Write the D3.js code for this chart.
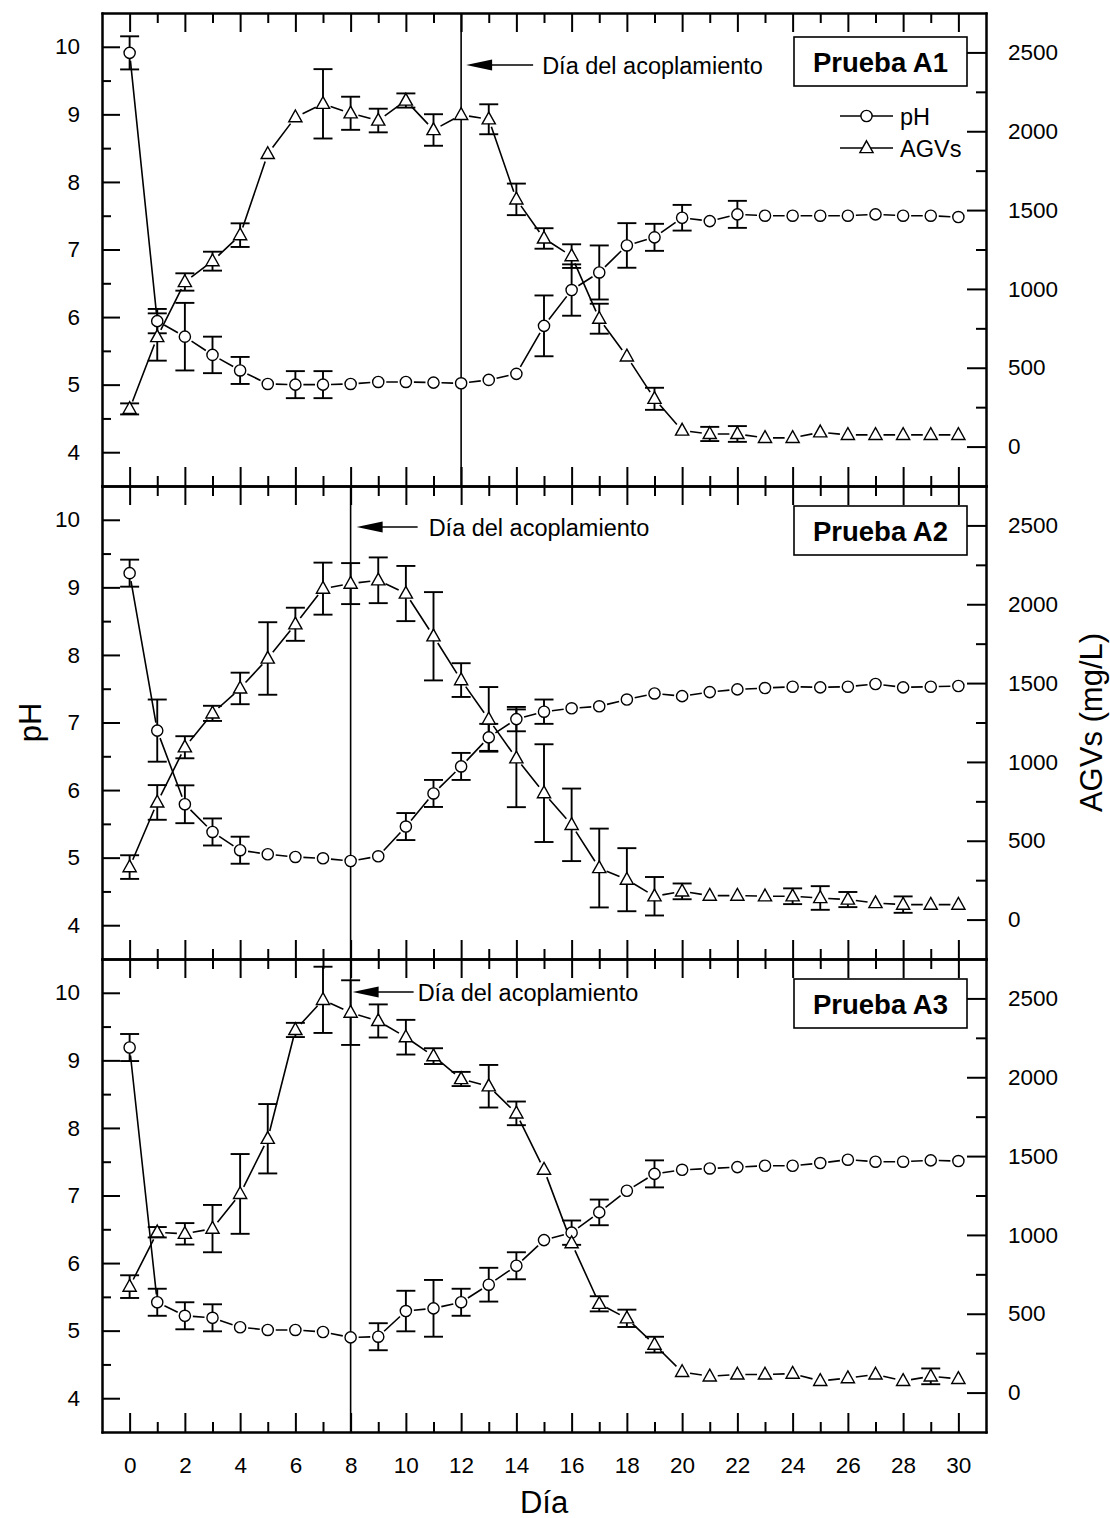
<!DOCTYPE html>
<html><head><meta charset="utf-8">
<script src="https://cdn.jsdelivr.net/npm/d3@7"></script>
<style>
body{margin:0;background:#fff}
svg text{font-family:"Liberation Sans",Arial,Helvetica,sans-serif;fill:#000}
</style>
</head><body>
<svg id="c" width="1110" height="1518"></svg>
<script>
// ---------------- data ----------------
const days = [0,1,2,3,4,5,6,7,8,9,10,11,12,13,14,15,16,17,18,19,20,21,22,23,24,25,26,27,28,29,30];
const testNames = ["Prueba A1","Prueba A2","Prueba A3"];
const couplingDays = [12, 8, 8];
const annotationText = "Día del acoplamiento";
const legendLabels = ["pH","AGVs"];
const xTitle = "Día", yLeftTitle = "pH", yRightTitle = "AGVs (mg/L)";
const dayMajorTicks = [0,2,4,6,8,10,12,14,16,18,20,22,24,26,28,30];
const dayMinorTicks = [1,3,5,7,9,11,13,15,17,19,21,23,25,27,29];
const phMajorTicks = [4,5,6,7,8,9,10];
const phMinorTicks = [4.5,5.5,6.5,7.5,8.5,9.5];
const agvMajorTicks = [0,500,1000,1500,2000,2500];
const agvMinorTicks = [250,750,1250,1750,2250];

const pH_A1     = [9.91,5.94,5.71,5.44,5.21,5.01,5.00,5.00,5.01,5.04,5.04,5.03,5.02,5.07,5.16,5.87,6.40,6.66,7.06,7.18,7.47,7.42,7.52,7.50,7.50,7.50,7.50,7.52,7.50,7.50,7.48];
const pH_A1_err = [0.245,0.18,0.5,0.27,0.2,0,0.2,0.2,0,0,0,0,0,0,0,0.45,0.38,0.4,0.33,0.2,0.19,0,0.2,0,0,0,0,0,0,0,0];
const agv_A1     = [239,695,1044,1176,1341,1856,2089,2174,2114,2068,2195,2008,2104,2076,1568,1320,1208,811,572,303,102,80,80,55,55,91,74,74,74,74,74];
const agv_A1_err = [35,150,55,60,75,0,0,220,105,75,45,100,0,95,100,65,75,95,0,70,0,45,50,0,0,0,0,0,0,0,0];

const pH_A2     = [9.21,6.88,5.79,5.38,5.11,5.05,5.01,4.99,4.95,5.02,5.46,5.95,6.35,6.78,7.05,7.16,7.21,7.24,7.34,7.43,7.39,7.45,7.49,7.51,7.53,7.52,7.53,7.57,7.52,7.53,7.54];
const pH_A2_err = [0.2,0.46,0.28,0.2,0.2,0,0,0,0,0,0.2,0.2,0.2,0.2,0.18,0.18,0,0,0,0,0,0,0,0,0,0,0,0,0,0,0];
const agv_A2     = [333,743,1093,1308,1466,1656,1873,2099,2131,2152,2068,1797,1519,1270,1023,802,601,327,253,148,179,152,152,148,148,137,127,105,95,95,95];
const agv_A2_err = [75,110,70,48,100,230,105,165,130,145,175,280,107,205,310,310,230,250,200,122,50,0,0,0,50,75,48,0,52,0,0];

const pH_A3     = [9.19,5.42,5.22,5.19,5.05,5.01,5.01,4.98,4.90,4.91,5.29,5.33,5.42,5.68,5.96,6.34,6.45,6.75,7.07,7.32,7.38,7.40,7.42,7.44,7.44,7.48,7.53,7.50,7.50,7.52,7.51];
const pH_A3_err = [0.2,0.2,0.2,0.2,0,0,0,0,0,0.2,0.3,0.42,0.2,0.25,0.2,0,0.18,0.19,0,0.2,0,0,0,0,0,0,0,0,0,0,0];
const agv_A3     = [672,1017,1007,1040,1260,1610,2300,2491,2410,2357,2254,2134,1989,1943,1771,1414,948,563,471,304,131,103,115,115,120,74,92,115,74,103,87];
const agv_A3_err = [72,33,68,150,253,220,45,210,205,105,110,50,45,135,75,0,0,48,55,50,0,0,0,0,0,0,0,0,0,50,0];

const panels = [
  {name: testNames[0], coupling: couplingDays[0], ph: pH_A1, phErr: pH_A1_err, agv: agv_A1, agvErr: agv_A1_err},
  {name: testNames[1], coupling: couplingDays[1], ph: pH_A2, phErr: pH_A2_err, agv: agv_A2, agvErr: agv_A2_err},
  {name: testNames[2], coupling: couplingDays[2], ph: pH_A3, phErr: pH_A3_err, agv: agv_A3, agvErr: agv_A3_err}
];

// ---------------- layout ----------------
const FONT = '"Liberation Sans",Arial,Helvetica,sans-serif';
const TICK_FS = 22.5;
const L = 102, R = 986, T0 = 13, PANEL_H = 473;
const annotLayout = [
  {dy: 52, tipOff: 5, tail: 67, textGap: 9},
  {dy: 41, tipOff: 6, tail: 61, textGap: 11},
  {dy: 33, tipOff: 2, tail: 61, textGap: 4}
];
const boxLayout = [{dy: 24}, {dy: 20}, {dy: 20}];

const svg = d3.select("#c");
svg.append("rect").attr("width",1110).attr("height",1518).attr("fill","#fff");
const x = d3.scaleLinear([-1, 31], [L, R]);

function styleAxis(sel, fs){
  sel.attr("font-family", FONT).attr("font-size", fs);
  sel.selectAll("path.domain").attr("stroke","#000").attr("stroke-width",2).attr("stroke-linecap","square");
  sel.selectAll(".tick line").attr("stroke","#000").attr("stroke-width",2);
  sel.selectAll(".tick text").attr("fill","#000").attr("font-size", fs);
}

function gappedPath(pts, gap){
  let d = "";
  for (let i = 0; i < pts.length - 1; i++){
    const [x1,y1] = pts[i], [x2,y2] = pts[i+1];
    const dx = x2-x1, dy = y2-y1, len = Math.hypot(dx,dy);
    if (len <= 2*gap + 1) continue;
    const ux = dx/len, uy = dy/len;
    d += `M${x1+ux*gap},${y1+uy*gap}L${x2-ux*gap},${y2-uy*gap}`;
  }
  return d;
}
const triPath = "M0,-7.2L6.6,4.6L-6.6,4.6Z";

panels.forEach((p, i) => {
  const top = T0 + i*PANEL_H, bot = top + PANEL_H;
  const yP = d3.scaleLinear([3.5, 10.5], [bot, top]);
  const yA = d3.scaleLinear([-250, 2750], [bot, top]);
  const g = svg.append("g");
  const isLast = i === panels.length - 1;

  // bottom axis
  g.append("g").attr("transform",`translate(0,${bot})`)
    .call(d3.axisBottom(x).tickValues(dayMajorTicks).tickSize(-19).tickSizeOuter(0).tickPadding(25)
      .tickFormat(isLast ? d3.format("d") : () => ""))
    .call(s => styleAxis(s, TICK_FS));
  g.append("g").attr("transform",`translate(0,${bot})`)
    .call(d3.axisBottom(x).tickValues(dayMinorTicks).tickSize(-10).tickSizeOuter(0).tickFormat(() => ""))
    .call(s => styleAxis(s, TICK_FS));
  // top axis
  g.append("g").attr("transform",`translate(0,${top})`)
    .call(d3.axisTop(x).tickValues(dayMajorTicks).tickSize(-19).tickSizeOuter(0).tickFormat(() => ""))
    .call(s => styleAxis(s, TICK_FS));
  g.append("g").attr("transform",`translate(0,${top})`)
    .call(d3.axisTop(x).tickValues(dayMinorTicks).tickSize(-10).tickSizeOuter(0).tickFormat(() => ""))
    .call(s => styleAxis(s, TICK_FS));
  // left axis (pH)
  g.append("g").attr("transform",`translate(${L},0)`)
    .call(d3.axisLeft(yP).tickValues(phMajorTicks).tickSize(-18).tickSizeOuter(0).tickPadding(22).tickFormat(d3.format("d")))
    .call(s => styleAxis(s, TICK_FS));
  g.append("g").attr("transform",`translate(${L},0)`)
    .call(d3.axisLeft(yP).tickValues(phMinorTicks).tickSize(-9).tickSizeOuter(0).tickFormat(() => ""))
    .call(s => styleAxis(s, TICK_FS));
  // right axis (AGVs)
  g.append("g").attr("transform",`translate(${R},0)`)
    .call(d3.axisRight(yA).tickValues(agvMajorTicks).tickSize(-19).tickSizeOuter(0).tickPadding(22).tickFormat(d3.format("d")))
    .call(s => styleAxis(s, TICK_FS));
  g.append("g").attr("transform",`translate(${R},0)`)
    .call(d3.axisRight(yA).tickValues(agvMinorTicks).tickSize(-10).tickSizeOuter(0).tickFormat(() => ""))
    .call(s => styleAxis(s, TICK_FS));

  // coupling day line
  g.append("line").attr("x1", x(p.coupling)).attr("x2", x(p.coupling))
    .attr("y1", top).attr("y2", bot).attr("stroke","#000").attr("stroke-width",1.6);

  // data lines
  const phPts = days.map((d,k) => [x(d), yP(p.ph[k])]);
  const agvPts = days.map((d,k) => [x(d), yA(p.agv[k])]);
  g.append("path").attr("d", gappedPath(phPts, 8)).attr("fill","none").attr("stroke","#000").attr("stroke-width",1.6);
  g.append("path").attr("d", gappedPath(agvPts, 8)).attr("fill","none").attr("stroke","#000").attr("stroke-width",1.6);

  // error bars
  function errBars(vals, errs, y){
    days.forEach((d,k) => {
      const e = errs[k]; if (!e) return;
      const cx = x(d), y1 = y(vals[k]-e), y2 = y(vals[k]+e);
      const eg = g.append("g").attr("stroke","#000").attr("stroke-width",1.9);
      eg.append("line").attr("x1",cx).attr("x2",cx).attr("y1",y1).attr("y2",y2);
      eg.append("line").attr("x1",cx-9.5).attr("x2",cx+9.5).attr("y1",y1).attr("y2",y1);
      eg.append("line").attr("x1",cx-9.5).attr("x2",cx+9.5).attr("y1",y2).attr("y2",y2);
    });
  }
  errBars(p.ph, p.phErr, yP);
  errBars(p.agv, p.agvErr, yA);

  // markers
  g.selectAll(null).data(days).join("circle")
    .attr("cx", d => x(d)).attr("cy", (d,k) => yP(p.ph[k])).attr("r", 5.6)
    .attr("fill","#fff").attr("stroke","#000").attr("stroke-width",1.4);
  g.selectAll(null).data(days).join("path")
    .attr("d", triPath)
    .attr("transform", (d,k) => `translate(${x(d)},${yA(p.agv[k])})`)
    .attr("fill","#fff").attr("stroke","#000").attr("stroke-width",1.4);

  // test name box
  const bx = 794, bw = 173, bh = 49, by = top + boxLayout[i].dy;
  g.append("rect").attr("x",bx).attr("y",by).attr("width",bw).attr("height",bh)
    .attr("fill","#fff").attr("stroke","#000").attr("stroke-width",1.6);
  g.append("text").attr("x", bx + bw/2).attr("y", by + bh/2 + 1)
    .attr("text-anchor","middle").attr("dominant-baseline","central")
    .attr("font-weight","bold").attr("font-size",27.5).text(p.name);

  // coupling annotation
  const a = annotLayout[i];
  const ay = top + a.dy, tip = x(p.coupling) + a.tipOff, tail = tip + a.tail;
  g.append("line").attr("x1", tip + 20).attr("x2", tail).attr("y1", ay).attr("y2", ay)
    .attr("stroke","#000").attr("stroke-width",1.6);
  g.append("path").attr("d", `M${tip},${ay}L${tip+26},${ay-5.5}L${tip+26},${ay+5.5}Z`).attr("fill","#000");
  g.append("text").attr("x", tail + a.textGap).attr("y", ay + 1)
    .attr("dominant-baseline","central").attr("font-size",23.5).text(annotationText);

  // legend (first panel only)
  if (i === 0){
    const lx1 = 840, lx2 = 893, lc = 866.5, ly = [116, 148];
    ly.forEach((yy, j) => {
      g.append("line").attr("x1",lx1).attr("x2",lx2).attr("y1",yy).attr("y2",yy).attr("stroke","#000").attr("stroke-width",1.6);
      if (j === 0) g.append("circle").attr("cx",lc).attr("cy",yy).attr("r",5.6).attr("fill","#fff").attr("stroke","#000").attr("stroke-width",1.4);
      else g.append("path").attr("d",triPath).attr("transform",`translate(${lc},${yy})`).attr("fill","#fff").attr("stroke","#000").attr("stroke-width",1.4);
      g.append("text").attr("x",900).attr("y",yy + 1).attr("dominant-baseline","central").attr("font-size",23.5).text(legendLabels[j]);
    });
  }
});

// axis titles
const midY = T0 + PANEL_H*1.5;
svg.append("text").attr("transform",`translate(30,${midY}) rotate(-90)`)
  .attr("text-anchor","middle").attr("dominant-baseline","central").attr("font-size",31).text(yLeftTitle);
svg.append("text").attr("transform",`translate(1091,${midY}) rotate(-90)`)
  .attr("text-anchor","middle").attr("dominant-baseline","central").attr("font-size",31).text(yRightTitle);
svg.append("text").attr("x", x(15)).attr("y", 1502)
  .attr("text-anchor","middle").attr("dominant-baseline","central").attr("font-size",31).text(xTitle);
</script>
</body></html>
